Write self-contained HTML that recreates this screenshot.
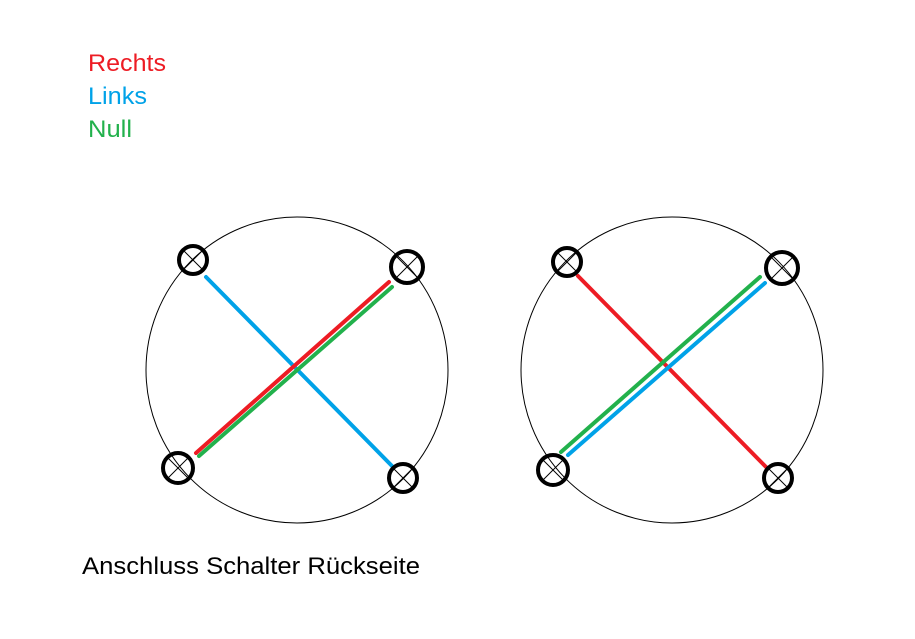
<!DOCTYPE html>
<html><head><meta charset="utf-8"><style>
html,body{margin:0;padding:0;background:#fff;}
svg{display:block;}
text{font-family:"Liberation Sans",sans-serif;font-size:24px;}
</style></head><body>
<svg width="915" height="639" viewBox="0 0 915 639" xmlns="http://www.w3.org/2000/svg">
<rect width="915" height="639" fill="#fff"/>
<text x="88" y="71" fill="#ed1c24" textLength="78" lengthAdjust="spacingAndGlyphs">Rechts</text>
<text x="88" y="104" fill="#00a2e8" textLength="59" lengthAdjust="spacingAndGlyphs">Links</text>
<text x="88" y="137" fill="#22b14c" textLength="44" lengthAdjust="spacingAndGlyphs">Null</text>
<text x="82" y="574" fill="#000" textLength="338" lengthAdjust="spacingAndGlyphs">Anschluss Schalter Rückseite</text>

<g fill="none" stroke="#000" stroke-width="1">
<ellipse cx="297" cy="370" rx="151" ry="153"/>
<ellipse cx="672" cy="370" rx="151" ry="153"/>
</g>

<g stroke-width="4" stroke-linecap="round">
<line x1="206" y1="277" x2="393" y2="467" stroke="#00a2e8"/>
<line x1="196" y1="453" x2="389" y2="282" stroke="#ed1c24"/>
<line x1="199" y1="456" x2="392" y2="287" stroke="#22b14c"/>
<line x1="578" y1="276" x2="767" y2="468" stroke="#ed1c24"/>
<line x1="561" y1="452" x2="760" y2="277" stroke="#22b14c"/>
<line x1="568" y1="455" x2="765" y2="283" stroke="#00a2e8"/>
</g>

<g stroke="#000" stroke-width="1">
<line x1="183" y1="270" x2="203" y2="250"/><line x1="183" y1="250" x2="203" y2="270"/>
<line x1="397" y1="277" x2="417" y2="257"/><line x1="397" y1="257" x2="417" y2="277"/>
<line x1="168" y1="478" x2="188" y2="458"/><line x1="168" y1="458" x2="188" y2="478"/>
<line x1="393" y1="488" x2="413" y2="468"/><line x1="393" y1="468" x2="413" y2="488"/>
<line x1="557" y1="272" x2="577" y2="252"/><line x1="557" y1="252" x2="577" y2="272"/>
<line x1="772" y1="278" x2="792" y2="258"/><line x1="772" y1="258" x2="792" y2="278"/>
<line x1="543" y1="480" x2="563" y2="460"/><line x1="543" y1="460" x2="563" y2="480"/>
<line x1="768" y1="488" x2="788" y2="468"/><line x1="768" y1="468" x2="788" y2="488"/>
</g>

<g fill="none" stroke="#000" stroke-width="4">
<circle cx="193" cy="260" r="14"/>
<circle cx="407" cy="267" r="16"/>
<circle cx="178" cy="468" r="15"/>
<circle cx="403" cy="478" r="14"/>
<circle cx="567" cy="262" r="14"/>
<circle cx="782" cy="268" r="16"/>
<circle cx="553" cy="470" r="15"/>
<circle cx="778" cy="478" r="14"/>
</g>
</svg>
</body></html>
